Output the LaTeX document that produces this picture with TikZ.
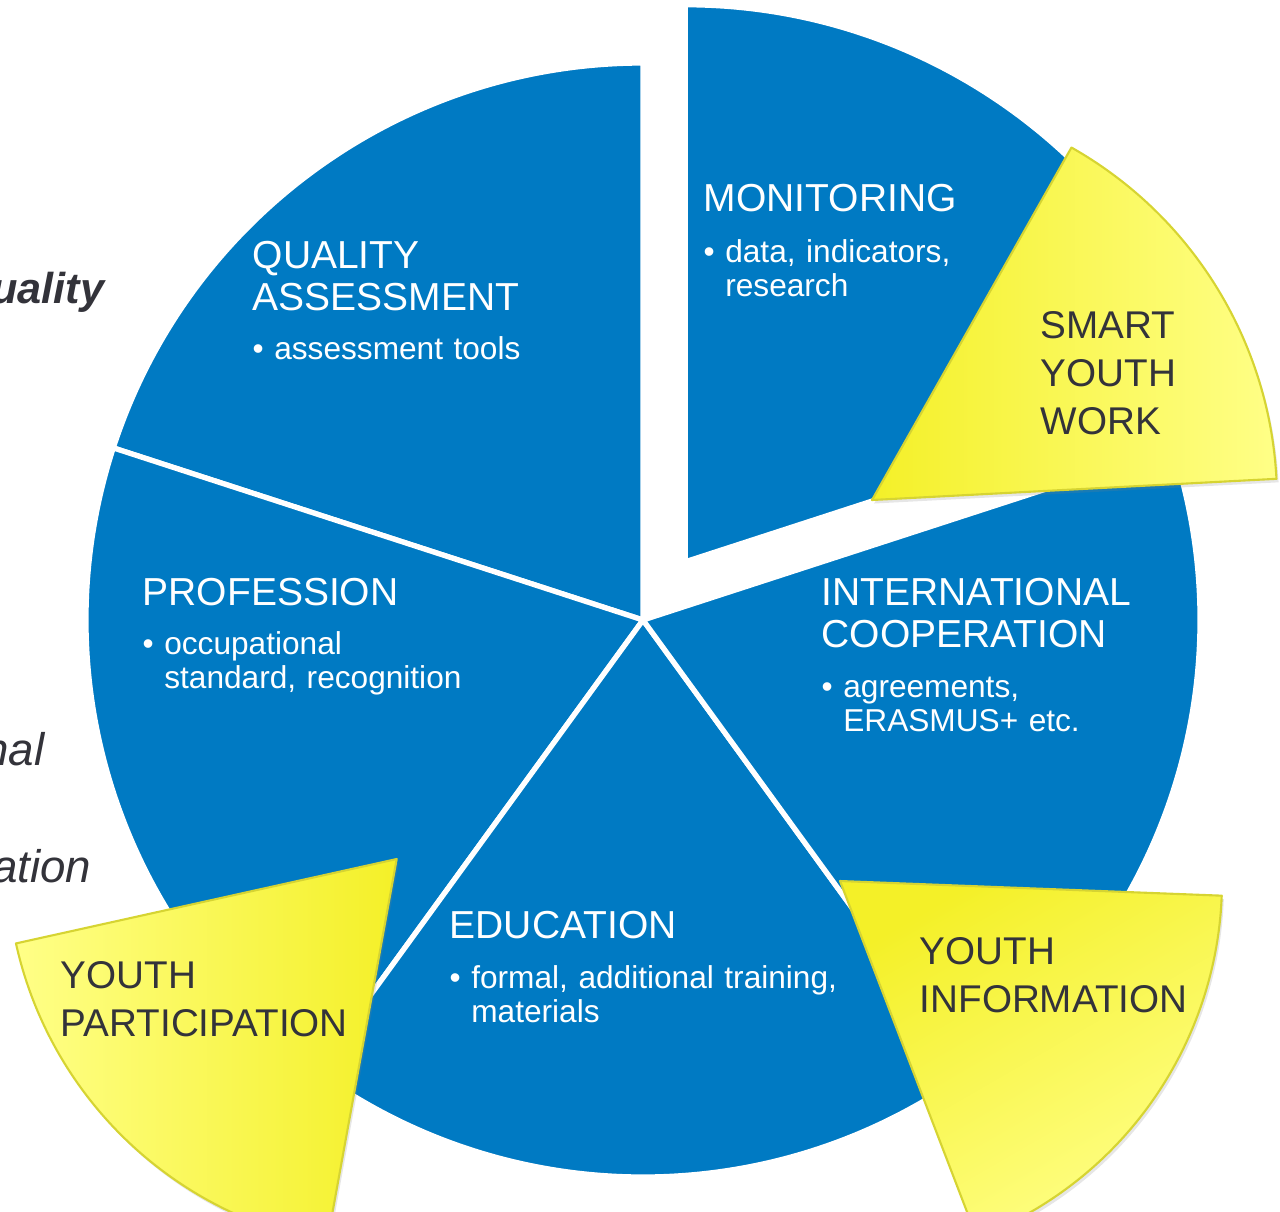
\documentclass[tikz,border=0pt]{standalone}
\usepackage{fontspec}
\setmainfont{Liberation Sans}
\usetikzlibrary{shadows}

\definecolor{pieblue}{RGB}{0,122,195}
\definecolor{ybright}{RGB}{244,240,40}
\definecolor{ypale}{RGB}{255,255,135}
\definecolor{yedge}{RGB}{214,212,50}
\definecolor{darktext}{RGB}{51,51,58}

\tikzset{
  slice/.style={fill=pieblue, draw=white, line width=1.5pt, line join=round},
  wedge/.style={draw=yedge, line width=0.6pt, line join=round,
    drop shadow={opacity=0.2, shadow xshift=0.6pt, shadow yshift=-1pt}},
  title/.style={anchor=base west, inner sep=0pt, text=white, text width=4.6cm,
    align=left, font=\fontsize{11.1}{11.95}\selectfont},
  bullets/.style={anchor=base west, inner sep=0pt, text=white, text width=4.6cm,
    align=left, font=\fontsize{9}{9.7}\selectfont},
  wlabel/.style={anchor=base west, inner sep=0pt, text=darktext, text width=4cm,
    align=left, font=\fontsize{11}{13.7}\selectfont},
  cutoff/.style={anchor=base east, inner sep=0pt, text=darktext,
    font=\fontsize{13}{15}\selectfont\itshape}
}
\newcommand{\R}{5.57}
\newcommand{\pad}{\hphantom{\textbullet\ }}

\begin{document}
\begin{tikzpicture}
  \useasboundingbox (0,0) rectangle (12.8,12.11);

  % text from the slide behind the pie
  \node[cutoff, font=\fontsize{12.3}{14}\selectfont\bfseries\itshape] (q) at (1.05,9.08) {uality};
  \node[cutoff] (n) at (0.45,4.46) {nal};
  \node[cutoff] (a) at (0.92,3.29) {ation};

  % the pie
  \coordinate (c) at (6.43,5.91);
  \path (c) ++(54:0.72) coordinate (m);
  \foreach \a/\b in {90/162, 162/234, 234/306, 306/378}
    \draw[slice] (c) -- ++(\a:\R) arc (\a:\b:\R) -- cycle;
  \draw[slice] (m) -- ++(18:\R) arc (18:90:\R) -- cycle;

  \node[title] (qa) at (2.52,9.43) {QUALITY\\ASSESSMENT};
  \node[bullets] (qalist) at (2.52,8.52) {\textbullet\ assessment tools};

  \node[title] (mon) at (7.03,10.00) {MONITORING};
  \node[bullets] (monlist) at (7.03,9.49) {\textbullet\ data, indicators,\\\pad research};

  \node[title] (prof) at (1.42,6.06) {PROFESSION};
  \node[bullets] (proflist) at (1.42,5.57) {\textbullet\ occupational\\\pad standard, recognition};

  \node[title] (intl) at (8.21,6.06) {INTERNATIONAL\\COOPERATION};
  \node[bullets] (intllist) at (8.21,5.14) {\textbullet\ agreements,\\\pad ERASMUS+ etc.};

  \node[title] (edu) at (4.49,2.73) {EDUCATION};
  \node[bullets] (edulist) at (4.49,2.23) {\textbullet\ formal, additional training,\\\pad materials};

  % yellow wedges
  \coordinate (syw) at (8.72,7.11);
  \coordinate (yi) at (8.40,3.30);
  \coordinate (yp) at (3.967,3.52);
  \draw[wedge, left color=ybright, right color=ypale]
    (syw) -- ++(3:4.05) arc (3:60.5:4.05) -- cycle;
  \draw[wedge, top color=ybright, bottom color=ypale, shading angle=30]
    (yi) -- ++(-2.2:3.82) arc (-2.2:-69:3.82) -- cycle;
  \draw[wedge, left color=ypale, right color=ybright]
    (yp) -- ++(192.5:3.9) arc (192.5:259.7:3.9) -- cycle;

  \node[wlabel] (sywtext) at (10.40,8.73) {SMART\\YOUTH\\WORK};
  \node[wlabel] (yitext) at (9.19,2.47) {YOUTH\\INFORMATION};
  \node[wlabel] (yptext) at (0.60,2.23) {YOUTH\\PARTICIPATION};
\end{tikzpicture}
\end{document}
